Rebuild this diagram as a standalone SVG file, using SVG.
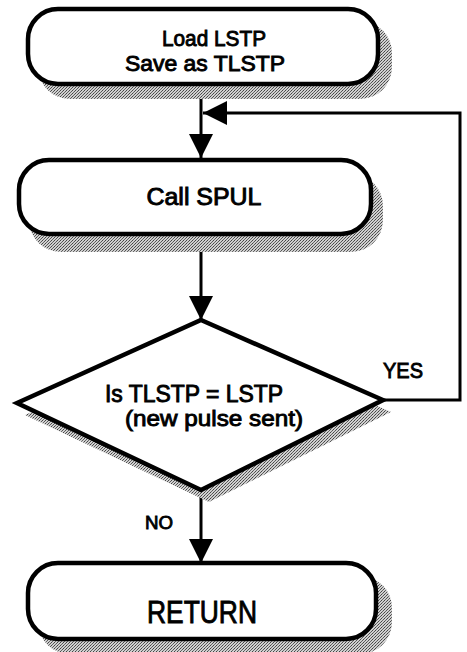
<svg xmlns="http://www.w3.org/2000/svg" width="467" height="652" viewBox="0 0 467 652">
<defs>
<pattern id="stip" width="3" height="3" patternUnits="userSpaceOnUse">
<rect width="3" height="3" fill="#d0d0d0"/>
<rect x="0" y="0" width="1" height="1" fill="#444"/>
<rect x="2" y="1" width="1" height="1" fill="#555"/>
<rect x="1" y="2" width="1" height="1" fill="#666"/>
</pattern>
<marker id="arr" viewBox="0 0 24 24" refX="24" refY="12" markerWidth="24" markerHeight="24" markerUnits="userSpaceOnUse" orient="auto">
<path d="M0,0 L24,12 L0,24 Z" fill="#000"/>
</marker>
</defs>
<style>
.node{fill:#fff;stroke:#000;stroke-width:4.5}
.shadow{fill:url(#stip);stroke:none}
.conn{fill:none;stroke:#000;stroke-width:3}
text{font-family:"Liberation Sans",Arial,sans-serif;fill:#000;stroke:#000;stroke-width:0.9;text-anchor:middle}
</style>
<rect width="467" height="652" fill="#fff"/>
<g id="connectors">
<line class="conn" x1="201" y1="85" x2="201" y2="158" marker-end="url(#arr)"/>
<polyline class="conn" points="383,400 460,400 460,113 203,113" marker-end="url(#arr)"/>
<line class="conn" x1="201" y1="235" x2="201" y2="320" marker-end="url(#arr)"/>
<line class="conn" x1="201" y1="490" x2="201" y2="563" marker-end="url(#arr)"/>
</g>
<g id="load">
<rect class="shadow" x="38" y="21" width="354" height="78" rx="32"/>
<rect class="node" x="28" y="9" width="350" height="75" rx="30"/>
<text x="214" y="46" font-size="22" textLength="104" lengthAdjust="spacingAndGlyphs">Load LSTP</text>
<text x="205" y="71" font-size="22" textLength="160" lengthAdjust="spacingAndGlyphs">Save as TLSTP</text>
</g>
<g id="call">
<rect class="shadow" x="29" y="174" width="354" height="78" rx="32"/>
<rect class="node" x="19" y="160" width="352" height="74" rx="30"/>
<text x="204" y="205" font-size="23" textLength="115" lengthAdjust="spacingAndGlyphs">Call SPUL</text>
</g>
<g id="decision">
<polygon class="shadow" points="209,332 391,412 209,502 25,415"/>
<polygon class="node" points="201,320 383,400 201,490 17,403"/>
<text x="194" y="402" font-size="23" textLength="178" lengthAdjust="spacingAndGlyphs">Is TLSTP = LSTP</text>
<text x="214" y="426" font-size="22" textLength="178" lengthAdjust="spacingAndGlyphs">(new pulse sent)</text>
</g>
<g id="return">
<rect class="shadow" x="38" y="576" width="354" height="78" rx="32"/>
<rect class="node" x="28" y="563" width="348" height="76" rx="30"/>
<text x="202" y="623" font-size="32" textLength="110" lengthAdjust="spacingAndGlyphs">RETURN</text>
</g>
<g id="labels">
<text x="403" y="378" font-size="22" textLength="40" lengthAdjust="spacingAndGlyphs">YES</text>
<text x="159" y="529" font-size="19" textLength="28" lengthAdjust="spacingAndGlyphs">NO</text>
</g>
</svg>
